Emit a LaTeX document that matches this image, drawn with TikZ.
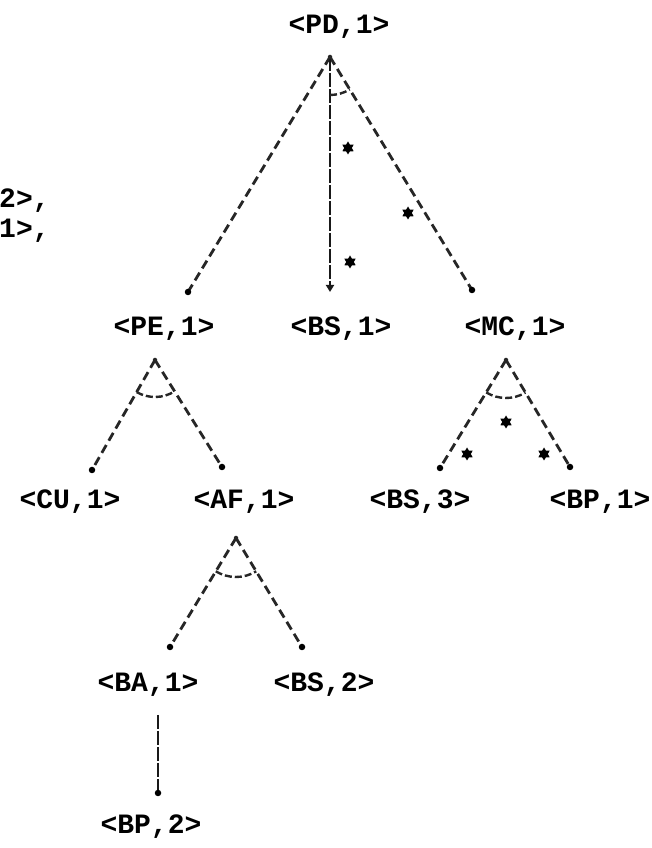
\documentclass[tikz,border=0pt]{standalone}
\usepackage{fontspec}
\newfontfamily\labfont{Liberation Mono}
\usetikzlibrary{arrows.meta,shapes.geometric}
\begin{document}
\begin{tikzpicture}[x=1pt,y=1pt,
  lab/.style={font=\labfont\bfseries\fontsize{28}{30}\selectfont, inner sep=0pt, anchor=base},
  dl/.style={line width=2.8pt, dash pattern=on 9pt off 5pt, black!85},
  dense/.style={line width=2.8pt, dash pattern=on 14pt off 2pt, black!90},
  arcl/.style={line width=2.4pt, dash pattern=on 7pt off 3pt, black!85},
  enddot/.style={circle, fill=black, inner sep=0pt, minimum size=6.5pt},
  topdot/.style={circle, fill=black!85, inner sep=0pt, minimum size=4.5pt},
  starmark/.style={star, star points=6, star point ratio=1.7, fill=black, inner sep=0pt, minimum size=13pt}]
\useasboundingbox (0,0) rectangle (652,848);
\fill[white] (0,0) rectangle (652,848);

% labels
\node[lab] (PD)  at (339,814) {<PD,1>};
\node[lab] (PE)  at (164,512) {<PE,1>};
\node[lab] (BSa) at (341,512) {<BS,1>};
\node[lab] (MC)  at (515,512) {<MC,1>};
\node[lab] (CU)  at (70,339)  {<CU,1>};
\node[lab] (AF)  at (244,339) {<AF,1>};
\node[lab] (BSc) at (420,339) {<BS,3>};
\node[lab] (BPa) at (600,339) {<BP,1>};
\node[lab] (BA)  at (148,156) {<BA,1>};
\node[lab] (BSb) at (324,156) {<BS,2>};
\node[lab] (BPb) at (151,14)  {<BP,2>};
\node[lab, anchor=base west] (fa) at (-1,640) {2>,};
\node[lab, anchor=base west] (fb) at (-1,610) {1>,};

% anchor points of the connectors
\coordinate (pdA) at (330,791);
\coordinate (pdL) at (188,556);
\coordinate (pdM) at (330,556);
\coordinate (pdR) at (472,558);
\coordinate (peA) at (155,488);
\coordinate (peL) at (92,378);
\coordinate (peR) at (222,381);
\coordinate (mcA) at (506,488);
\coordinate (mcL) at (440,380);
\coordinate (mcR) at (570,381);
\coordinate (afA) at (236,310);
\coordinate (afL) at (170,201);
\coordinate (afR) at (302,201);
\coordinate (baA) at (158,133);
\coordinate (baB) at (158,55);

% PD subtree
\draw[dl] (pdA) -- (pdL);
\draw[dl] (pdA) -- (pdR);
\draw[dense, -{Triangle[length=7pt,width=8pt]}] (pdA) -- (pdM);
\draw[arcl] ([shift={(-90:38)}]pdA) arc[start angle=-90, end angle=-58.6, radius=38];
\node[enddot] (dpdL) at (pdL) {};
\node[enddot] (dpdR) at (pdR) {};
\node[topdot] (dpdA) at (pdA) {};
\node[starmark] (s1) at (348,700) {};
\node[starmark] (s2) at (408,635) {};
\node[starmark] (s3) at (350,586) {};

% PE subtree
\draw[dl] (peA) -- (peL);
\draw[dl] (peA) -- (peR);
\draw[arcl] ([shift={(-119.8:37)}]peA) arc[start angle=-119.8, end angle=-57.9, radius=37];
\node[enddot] (dpeL) at (peL) {};
\node[enddot] (dpeR) at (peR) {};
\node[topdot] (dpeA) at (peA) {};

% MC subtree
\draw[dl] (mcA) -- (mcL);
\draw[dl] (mcA) -- (mcR);
\draw[arcl] ([shift={(-121.4:38)}]mcA) arc[start angle=-121.4, end angle=-59.1, radius=38];
\node[enddot] (dmcL) at (mcL) {};
\node[enddot] (dmcR) at (mcR) {};
\node[topdot] (dmcA) at (mcA) {};
\node[starmark] (s4) at (506,426) {};
\node[starmark] (s5) at (467,394) {};
\node[starmark] (s6) at (544,394) {};

% AF subtree
\draw[dl] (afA) -- (afL);
\draw[dl] (afA) -- (afR);
\draw[arcl] ([shift={(-121.2:39)}]afA) arc[start angle=-121.2, end angle=-58.8, radius=39];
\node[enddot] (dafL) at (afL) {};
\node[enddot] (dafR) at (afR) {};
\node[topdot] (dafA) at (afA) {};

% BA -> BP
\draw[dense] (baA) -- (baB);
\node[enddot] (dbaB) at (baB) {};
\end{tikzpicture}
\end{document}
